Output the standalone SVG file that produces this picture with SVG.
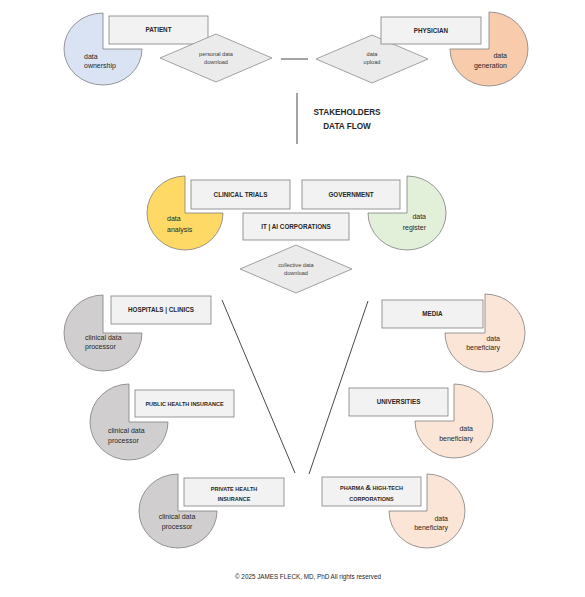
<svg xmlns="http://www.w3.org/2000/svg" width="585" height="597" viewBox="0 0 585 597">
<style>
.box{fill:#f2f2f2;stroke:#7f7f7f;stroke-width:0.8}
.dia{fill:#ebebeb;stroke:#8c8c8c;stroke-width:0.8}
.pie{stroke:#7f7f7f;stroke-width:0.8}
.lbl{font-family:"Liberation Sans",Arial,sans-serif;font-weight:bold;font-size:6.3px;fill:#262626;text-anchor:middle}
.pt{font-family:"Liberation Sans",Arial,sans-serif;font-size:7px;fill:#262626}
.dt{font-family:"Liberation Sans",Arial,sans-serif;font-size:5.6px;fill:#404040;text-anchor:middle}
.ln{stroke:#1a1a1a;stroke-width:0.8;fill:none}
</style>
<rect width="585" height="597" fill="#ffffff"/>
<g id="connectors">
<line class="ln" x1="281" y1="59" x2="308" y2="59"/>
<line class="ln" x1="297" y1="93" x2="297" y2="144"/>
<line class="ln" x1="222" y1="300" x2="295" y2="473"/>
<line class="ln" x1="368" y1="301" x2="309" y2="474"/>
</g>
<g id="title">
<text x="347" y="115" class="lbl" style="font-size:8.2px">STAKEHOLDERS</text>
<text x="347" y="129" class="lbl" style="font-size:8.2px">DATA FLOW</text>
</g>
<g id="patient">
<path class="pie" fill="#dae3f3" d="M103,49 L103,13 A39,36 0 1 0 142,49 Z"/>
<text class="pt" x="84" y="59">data</text>
<text class="pt" x="84" y="68">ownership</text>
<rect class="box" x="109" y="16" width="99" height="28"/>
<text class="lbl" x="158.5" y="32">PATIENT</text>
</g>
<g id="personal-data-download">
<polygon class="dia" points="160,58 216,34 272,58 216,82"/>
<text class="dt" x="216" y="56">personal data</text>
<text class="dt" x="216" y="64">download</text>
</g>
<g id="data-upload">
<polygon class="dia" points="316,59 372,35 428,59 372,83"/>
<text class="dt" x="372" y="56">data</text>
<text class="dt" x="372" y="64">upload</text>
</g>
<g id="physician">
<path class="pie" fill="#f8cbad" d="M489,49 L489,12 A39,37 0 1 1 450,49 Z"/>
<text class="pt" x="507" y="58" text-anchor="end">data</text>
<text class="pt" x="507" y="68" text-anchor="end">generation</text>
<rect class="box" x="381" y="17" width="100" height="27"/>
<text class="lbl" x="431" y="33">PHYSICIAN</text>
</g>
<g id="clinical-trials">
<path class="pie" fill="#ffd966" d="M185,213 L185,176 A38,37 0 1 0 223,213 Z"/>
<text class="pt" x="167" y="221">data</text>
<text class="pt" x="167" y="232">analysis</text>
<rect class="box" x="191" y="180" width="99" height="29"/>
<text class="lbl" x="240.5" y="197">CLINICAL TRIALS</text>
</g>
<g id="government">
<path class="pie" fill="#e2f0d9" d="M407,213 L407,176 A39,37 0 1 1 368,213 Z"/>
<text class="pt" x="426" y="219" text-anchor="end">data</text>
<text class="pt" x="426" y="230" text-anchor="end">register</text>
<rect class="box" x="302" y="180" width="98" height="29"/>
<text class="lbl" x="351" y="197">GOVERNMENT</text>
</g>
<g id="it-ai-corporations">
<rect class="box" x="243" y="213" width="106" height="27"/>
<text class="lbl" x="296" y="229">IT | AI CORPORATIONS</text>
</g>
<g id="collective-data-download">
<polygon class="dia" points="240,269 296,245 352,269 296,293"/>
<text class="dt" x="296" y="267">collective data</text>
<text class="dt" x="296" y="275">download</text>
</g>
<g id="hospitals-clinics">
<path class="pie" fill="#d0cece" d="M103,333 L103,295 A39,38 0 1 0 142,333 Z"/>
<text class="pt" x="85" y="340">clinical data</text>
<text class="pt" x="85" y="349">processor</text>
<rect class="box" x="111" y="296" width="100" height="28"/>
<text class="lbl" x="161" y="312">HOSPITALS | CLINICS</text>
</g>
<g id="public-health-insurance">
<path class="pie" fill="#d0cece" d="M129,422 L129,384 A39,38 0 1 0 168,422 Z"/>
<text class="pt" x="108" y="433">clinical data</text>
<text class="pt" x="108" y="443">processor</text>
<rect class="box" x="135" y="390" width="99" height="27"/>
<text class="lbl" x="184.5" y="406" style="font-size:5.5px">PUBLIC HEALTH INSURANCE</text>
</g>
<g id="private-health-insurance">
<path class="pie" fill="#d0cece" d="M178,511 L178,474 A39,37 0 1 0 217,511 Z"/>
<text class="pt" x="177" y="519" text-anchor="middle">clinical data</text>
<text class="pt" x="177" y="529" text-anchor="middle">processor</text>
<rect class="box" x="184" y="478" width="100" height="28"/>
<text class="lbl" x="234" y="491" style="font-size:5.5px">PRIVATE HEALTH</text>
<text class="lbl" x="234" y="501" style="font-size:5.5px">INSURANCE</text>
</g>
<g id="media">
<path class="pie" fill="#fbe5d6" d="M485,333 L485,294 A40,39 0 1 1 445,333 Z"/>
<text class="pt" x="500" y="341" text-anchor="end">data</text>
<text class="pt" x="500" y="350" text-anchor="end">beneficiary</text>
<rect class="box" x="382" y="300" width="101" height="28"/>
<text class="lbl" x="432.5" y="316">MEDIA</text>
</g>
<g id="universities">
<path class="pie" fill="#fbe5d6" d="M454,421 L454,384 A39,37 0 1 1 415,421 Z"/>
<text class="pt" x="473" y="431" text-anchor="end">data</text>
<text class="pt" x="473" y="441" text-anchor="end">beneficiary</text>
<rect class="box" x="349" y="388" width="99" height="28"/>
<text class="lbl" x="398.5" y="404">UNIVERSITIES</text>
</g>
<g id="pharma-high-tech">
<path class="pie" fill="#fbe5d6" d="M427,511 L427,474 A38,37 0 1 1 389,511 Z"/>
<text class="pt" x="448" y="521" text-anchor="end">data</text>
<text class="pt" x="448" y="530" text-anchor="end">beneficiary</text>
<rect class="box" x="322" y="477" width="99" height="29"/>
<text class="lbl" x="371.5" y="490" style="font-size:5.5px">PHARMA <tspan style="font-size:7.5px">&amp;</tspan> HIGH-TECH</text>
<text class="lbl" x="371.5" y="501" style="font-size:5.5px">CORPORATIONS</text>
</g>
<g id="footer">
<text x="308" y="579" style="font-family:'Liberation Sans',Arial,sans-serif;font-size:6.3px;fill:#262626;text-anchor:middle">© 2025 JAMES FLECK, MD, PhD All rights reserved</text>
</g>
</svg>
